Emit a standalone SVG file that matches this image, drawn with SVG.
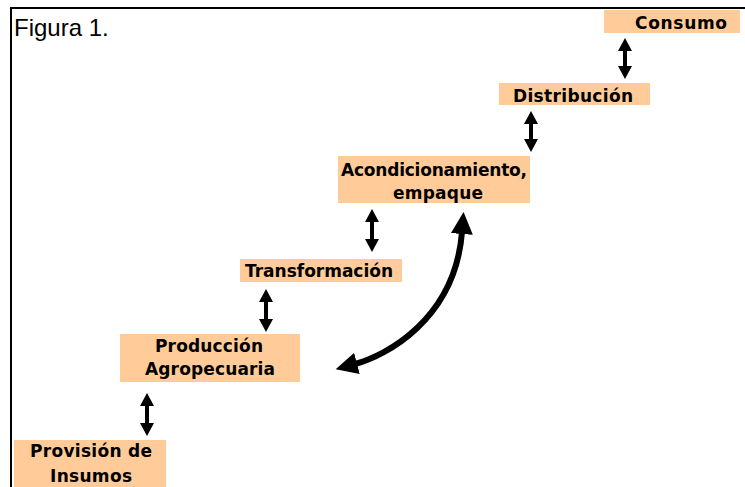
<svg xmlns="http://www.w3.org/2000/svg" width="745" height="487" viewBox="0 0 745 487">
<defs>
<style>
.box{fill:#FFCC99;}
.lbl{font-family:"DejaVu Sans","Verdana",sans-serif;font-weight:bold;font-size:17px;fill:#000;text-anchor:middle;}
.frame{stroke:#000;stroke-width:2;fill:none;}
.arr{stroke:#000;stroke-width:4;fill:none;marker-start:url(#ah);marker-end:url(#ah);}
.curve{stroke:#000;stroke-width:6;fill:none;stroke-linecap:round;marker-start:url(#ahb);marker-end:url(#ahb);}
</style>
<marker id="ah" markerUnits="userSpaceOnUse" markerWidth="14" markerHeight="14" refX="1" refY="7" orient="auto-start-reverse" viewBox="0 0 14 14">
<path d="M0,0 L13,7 L0,14 Z" fill="#000"/>
</marker>
<marker id="ahb" markerUnits="userSpaceOnUse" markerWidth="23" markerHeight="22" refX="2" refY="11" orient="auto-start-reverse" viewBox="0 0 23 22">
<path d="M0,0 L22,11 L0,22 Z" fill="#000"/>
</marker>
</defs>
<rect width="745" height="487" fill="#fff"/>
<g id="frame">
<path class="frame" d="M11,487 V8 H745"/>
<text x="14" y="36" font-family="Liberation Sans, Arial, sans-serif" font-size="24" fill="#000">Figura 1.</text>
</g>
<g id="connectors">
<line class="arr" x1="625" y1="50" x2="625" y2="67"/>
<line class="arr" x1="531" y1="123" x2="531" y2="140"/>
<line class="arr" x1="372" y1="221" x2="372" y2="240"/>
<line class="arr" x1="266" y1="301" x2="266" y2="320"/>
<line class="arr" x1="147" y1="405" x2="147" y2="424"/>
<path class="curve" d="M355,364 C385,356 455,320 462,232"/>
</g>
<g id="consumo">
<rect class="box" x="604" y="10" width="136" height="23"/>
<text class="lbl" x="681" y="28.5" textLength="92" lengthAdjust="spacing">Consumo</text>
</g>
<g id="distribucion">
<rect class="box" x="499" y="83" width="151" height="22"/>
<text class="lbl" x="573" y="101.5" textLength="120" lengthAdjust="spacing">Distribución</text>
</g>
<g id="acondicionamiento">
<rect class="box" x="338" y="156" width="192" height="47"/>
<text class="lbl" x="434" y="176" textLength="186" lengthAdjust="spacing">Acondicionamiento,</text>
<text class="lbl" x="438" y="199" textLength="90" lengthAdjust="spacing">empaque</text>
</g>
<g id="transformacion">
<rect class="box" x="240" y="259" width="162" height="23"/>
<text class="lbl" x="319" y="277" textLength="148" lengthAdjust="spacing">Transformación</text>
</g>
<g id="produccion">
<rect class="box" x="120" y="334" width="180" height="48"/>
<text class="lbl" x="209" y="351.5" textLength="108" lengthAdjust="spacing">Producción</text>
<text class="lbl" x="210" y="375" textLength="130" lengthAdjust="spacing">Agropecuaria</text>
</g>
<g id="provision">
<rect class="box" x="14" y="440" width="152" height="47"/>
<text class="lbl" x="91" y="456.5" textLength="122" lengthAdjust="spacing">Provisión de</text>
<text class="lbl" x="91" y="481.5" textLength="82" lengthAdjust="spacing">Insumos</text>
</g>
</svg>
